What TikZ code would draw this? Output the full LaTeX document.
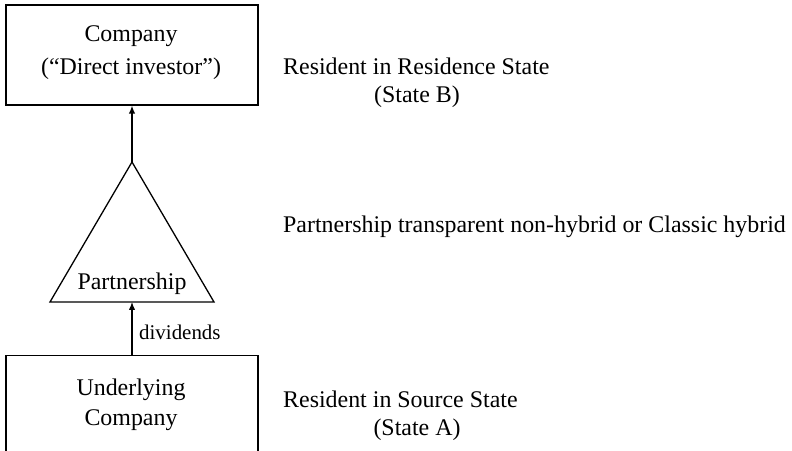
\documentclass[tikz,border=0pt]{standalone}
\usepackage{fontspec}
\setmainfont{Liberation Serif}
\usetikzlibrary{arrows.meta}
\begin{document}
\begin{tikzpicture}[x=1bp,y=-1bp,
  box/.style={draw,line width=1.3bp,inner sep=0pt},
  txt/.style={inner sep=0pt,font=\fontsize{24}{28}\selectfont},
  small/.style={inner sep=0pt,font=\fontsize{21}{25}\selectfont},
  arr/.style={line width=1.3bp,-{Latex[length=8bp,width=6.5bp]}},
  tri/.style={draw,line width=1.3bp,line join=miter}]
\useasboundingbox (0,0) rectangle (792,451);
\clip (0,0) rectangle (792,451);
% top box
\node[box,minimum width=252bp,minimum height=100bp] (top) at (132,55) {};
\node[txt] (t1) at (131,36) {Company};
\node[txt] (t2) at (131,69) {(“Direct investor”)};
% triangle
\coordinate (apex) at (132,162);
\coordinate (bl) at (50,302);
\coordinate (br) at (214,302);
\coordinate (bmid) at (132,302);
\draw[tri] (apex) -- (br) -- (bl) -- cycle;
\node[txt] (p) at (132,284) {Partnership};
% bottom box
\node[box,minimum width=252bp,minimum height=110bp,anchor=north] (bot) at (132,355) {};
\node[txt] (u1) at (131,390) {Underlying};
\node[txt] (u2) at (131,420) {Company};
% arrows
\draw[arr] (apex) -- (top.south);
\draw[arr] (bot.north) -- (bmid);
\node[small,anchor=west] (div) at (139,332) {dividends};
% right-hand labels
\node[txt,anchor=west] (r1) at (283,66) {Resident in Residence State};
\node[txt] (r2) at (417,97) {(State B)};
\node[txt,anchor=west] (pt) at (283,227) {Partnership transparent non-hybrid or Classic hybrid};
\node[txt,anchor=west] (s1) at (283,399) {Resident in Source State};
\node[txt] (s2) at (417,430) {(State A)};
\end{tikzpicture}
\end{document}
